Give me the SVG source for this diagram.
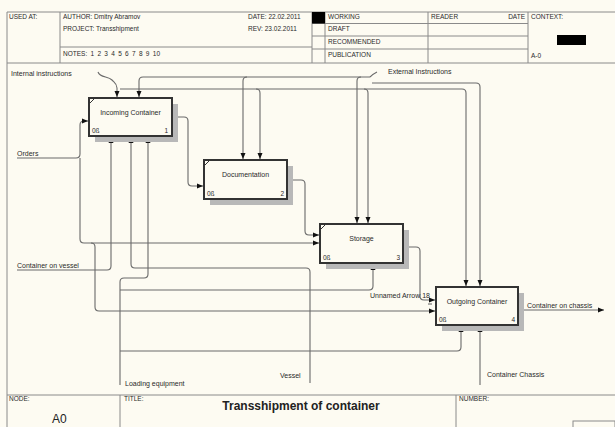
<svg xmlns="http://www.w3.org/2000/svg" width="615" height="427" viewBox="0 0 615 427">
<defs>
<style>
.t{font-family:"Liberation Sans",Arial,sans-serif;font-size:7px;fill:#2a2a2a}
.h{font-family:"Liberation Sans",Arial,sans-serif;font-size:6.5px;fill:#2a2a2a}
.fr{fill:none;stroke:#8a8a8a;stroke-width:1}
.c{fill:none;stroke:#6a6a6a;stroke-width:1.1}
.ca{fill:none;stroke:#6a6a6a;stroke-width:1.1;marker-end:url(#ah)}
.box{fill:#fdfbf2;stroke:#333;stroke-width:2}
.sh{fill:#b8b8b8}
.num{font-family:"Liberation Sans",Arial,sans-serif;font-size:6.5px;fill:#2a2a2a}
</style>
<marker id="ah" viewBox="0 0 6 6" refX="6" refY="3" markerWidth="6" markerHeight="6" markerUnits="userSpaceOnUse" orient="auto">
<path d="M0,0.5 L6,3 L0,5.5 z" fill="#111"/>
</marker>
</defs>
<rect x="0" y="0" width="615" height="427" fill="#fdfbf2"/>

<g id="frame">
<path class="fr" d="M7,12 H615 M7,12 V427 M7,63 H615 M7,395 H615"/>
<path class="fr" d="M60,12 V63 M60,47 H312 M312,12 V63 M325,12 V63 M428,12 V63 M528,12 V63 M312,23.5 H528 M312,36 H528 M312,49 H528"/>
<rect x="312" y="12" width="13" height="11.5" fill="#000"/>
<rect x="557" y="35" width="29" height="10" fill="#000"/>
<path class="fr" d="M120,395 V427 M456,395 V427"/>
<rect x="573" y="421" width="42" height="8" fill="#fdfbf2" stroke="#8a8a8a"/>
<text class="h" x="9" y="19">USED AT:</text>
<text class="h" x="63" y="19">AUTHOR:  Dmitry Abramov</text>
<text class="h" x="63" y="31">PROJECT:  Transshipment</text>
<text class="h" x="63" y="56" word-spacing="1.5">NOTES:  1  2  3  4  5  6  7  8  9  10</text>
<text class="h" x="248" y="19">DATE:  22.02.2011</text>
<text class="h" x="248" y="31">REV:     23.02.2011</text>
<text class="h" x="328" y="19">WORKING</text>
<text class="h" x="328" y="31">DRAFT</text>
<text class="h" x="328" y="44">RECOMMENDED</text>
<text class="h" x="328" y="57">PUBLICATION</text>
<text class="h" x="431" y="19">READER</text>
<text class="h" x="525" y="19" text-anchor="end">DATE</text>
<text class="h" x="531" y="19">CONTEXT:</text>
<text class="h" x="531" y="58">A-0</text>
<text class="h" x="9" y="401">NODE:</text>
<text x="52" y="423" style="font-family:'Liberation Sans',Arial,sans-serif;font-size:12px;fill:#222">A0</text>
<text class="h" x="124" y="401">TITLE:</text>
<text x="301" y="410" text-anchor="middle" style="font-family:'Liberation Sans',Arial,sans-serif;font-size:12px;font-weight:bold;fill:#222">Transshipment of container</text>
<text class="h" x="459" y="401">NUMBER:</text>
</g>

<g id="connectors">
<!-- Internal instructions -->
<path class="c" d="M98,72 C100,78 108,76 112,80 C115,83 117,84 117,88"/>
<path class="ca" d="M117,88 V97"/>
<path class="c" d="M120,89 H462 Q466,89 466,93"/>
<path class="ca" d="M466,93 V286"/>
<path class="ca" d="M256,89 Q260,89 260,93 V159"/>
<path class="ca" d="M364,89 Q368,89 368,93 V223"/>
<!-- External instructions -->
<path class="c" d="M377,72 C373,74 372,75 370,77"/>
<path class="ca" d="M370,77 H143 Q139,77 139,81 V97"/>
<path class="ca" d="M247,77 Q243,77 243,81 V159"/>
<path class="ca" d="M361,77 Q357,77 357,81 V223"/>
<path class="ca" d="M372,83 H476 Q480,83 480,87 V286"/>
<!-- Orders -->
<path class="c" d="M17,158 H76 Q80,158 80,154"/>
<path class="ca" d="M80,154 V125 Q80,121 84,121 H88"/>
<path class="ca" d="M80,158 V239 Q80,243 84,243 H319"/>
<path class="ca" d="M91,243 Q95,243 95,247 V307 Q95,311 99,311 H435"/>
<!-- Container on vessel -->
<path class="ca" d="M17,270 H107 Q111,270 111,266 V137"/>
<!-- Vessel -->
<path class="ca" d="M310,383 V272 Q310,268 306,268 H135 Q131,268 131,264 V137"/>
<!-- Loading equipment -->
<path class="ca" d="M120,385 V282 Q120,278 124,278 H144 Q148,278 148,274 V137"/>
<path class="ca" d="M120,290 H369 Q373,290 373,286 V264"/>
<path class="ca" d="M120,351 H457 Q461,351 461,347 V326"/>
<!-- Container Chassis -->
<path class="ca" d="M480,385 V326"/>
<!-- box outputs -->
<path class="ca" d="M172,117 H184 Q188,117 188,121 V182 Q188,186 192,186 H203"/>
<path class="ca" d="M287,180 H301 Q305,180 305,184 V231 Q305,235 309,235 H319"/>
<path class="ca" d="M403,247 H416 Q420,247 420,251 V296 Q420,300 424,300 H435"/>
<path class="c" d="M428,304 H432"/>
<path class="ca" d="M518,310 H604"/>
<!-- labels -->
<text class="t" x="11" y="76">Internal instructions</text>
<text class="t" x="388" y="74">External Instructions</text>
<text class="t" x="17" y="156">Orders</text>
<text class="t" x="17" y="268">Container on vessel</text>
<text class="t" x="280" y="378">Vessel</text>
<text class="t" x="125" y="386">Loading equipment</text>
<text class="t" x="487" y="377">Container Chassis</text>
<text class="t" x="527" y="308">Container on chassis</text>
<text class="t" x="370" y="298">Unnamed Arrow 18</text>
</g>

<g id="n1">
<rect class="sh" x="95" y="104" width="83" height="38"/>
<rect class="box" x="89" y="98" width="83" height="38"/>
<path d="M90,103 L94,99" stroke="#333" stroke-width="1"/>
<text class="t" x="130.5" y="115" text-anchor="middle">Incoming Container</text>
<text class="num" x="92" y="133">0ß</text>
<text class="num" x="168" y="133" text-anchor="end">1</text>
</g>

<g id="n2">
<rect class="sh" x="210" y="166" width="83" height="39"/>
<rect class="box" x="204" y="160" width="83" height="39"/>
<path d="M205,165 L209,161" stroke="#333" stroke-width="1"/>
<text class="t" x="245.5" y="177" text-anchor="middle">Documentation</text>
<text class="num" x="207" y="196">0ß</text>
<text class="num" x="284" y="196" text-anchor="end">2</text>
</g>

<g id="n3">
<rect class="sh" x="326" y="230" width="83" height="39"/>
<rect class="box" x="320" y="224" width="83" height="39"/>
<path d="M321,229 L325,225" stroke="#333" stroke-width="1"/>
<text class="t" x="361.5" y="241" text-anchor="middle">Storage</text>
<text class="num" x="323" y="260">0ß</text>
<text class="num" x="400" y="260" text-anchor="end">3</text>
</g>

<g id="n4">
<rect class="sh" x="442" y="293" width="82" height="38"/>
<rect class="box" x="436" y="287" width="82" height="38"/>
<text class="t" x="477" y="304" text-anchor="middle">Outgoing Container</text>
<text class="num" x="439" y="322">0ß</text>
<text class="num" x="515" y="322" text-anchor="end">4</text>
</g>
</svg>
